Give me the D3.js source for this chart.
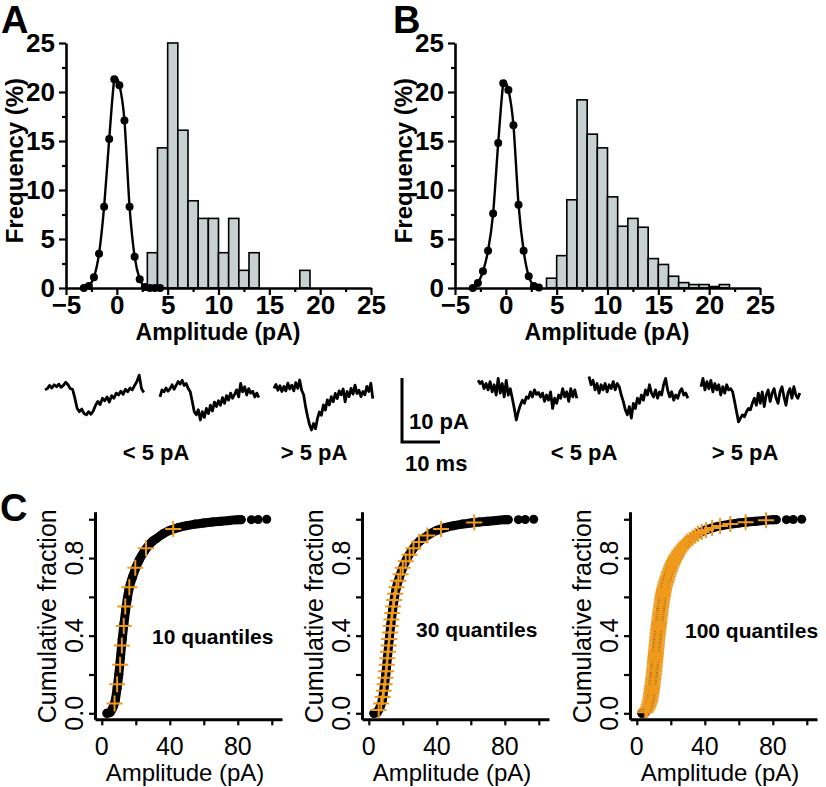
<!DOCTYPE html>
<html><head><meta charset="utf-8">
<script src="https://cdn.jsdelivr.net/npm/d3@7/dist/d3.min.js"></script>
<style>
body{margin:0;background:#fff}
svg text{font-family:"Liberation Sans",Arial,Helvetica,sans-serif;fill:#000}
</style>
</head><body>
<svg id="fig" width="826" height="787"></svg>
<script>
// ---------------- DATA ----------------
// Panel A histogram (bin start, pA) and frequency (%)
const binStartA = [3,4,5,6,7,8,9,10,11,12,13,18];
const freqA     = [3.6,14.3,25,16.1,8.9,7.1,7.1,3.6,7.1,1.8,3.6,1.8];
// Panel A noise distribution
const noiseXA = [-3.25,-2.75,-2.25,-1.75,-1.25,-0.75,-0.25,0.25,0.75,1.25,1.75,2.25,2.75,3.25,3.75,4.25];
const noiseYA = [0,0.2,1.1,3.5,8.3,15.2,21.3,20.7,17.1,8.3,3.2,0.9,0.1,0,0,0];
// Panel B histogram
const binStartB = [4,5,6,7,8,9,10,11,12,13,14,15,16,17,18,19,20,21];
const freqB     = [1.0,3.3,9.0,19.2,15.7,14.3,9.3,6.3,7.1,6.2,3.0,2.4,1.2,0.55,0.35,0.35,0.15,0.35];
// Panel B noise distribution
const noiseXB = [-3.25,-2.75,-2.25,-1.75,-1.25,-0.75,-0.25,0.25,0.75,1.25,1.75,2.25,2.75,3.25];
const noiseYB = [0,0.5,1.7,3.8,7.6,14.8,20.9,20.2,16.6,8.5,3.8,1.2,0.2,0.05];
// axis ticks
const histMajorX = [-5,0,5,10,15,20,25];
const histMinorX = [-2.5,2.5,7.5,12.5,17.5,22.5];
const histMajorY = [0,5,10,15,20,25];
const histMinorY = [2.5,7.5,12.5,17.5,22.5];

// Example current traces (pA, sampled evenly over the trace duration)
const trace1 = [-0.5,-0.3,0.2,-0.2,0.3,0,0.4,-0.1,0.2,0.7,0.3,-0.3,-0.4,-1.8,-3.4,-3.9,-3.5,-4.2,-4.4,-3.9,-4.3,-3.8,-2.9,-2.3,-2.8,-1.8,-2.2,-1.6,-2.4,-1.4,-1.8,-1.0,-1.3,-0.7,-1.2,-0.4,-0.8,-0.2,-0.5,0.2,0.8,1.8,-0.3,-0.9];
const trace2 = [-1.6,-0.5,-0.8,-0.2,-0.7,-0.3,0.3,-0.4,0.2,0.8,0.4,1.0,0.2,0.5,-0.3,-0.8,-2.3,-3.9,-4.4,-3.6,-5.2,-3.9,-4.8,-3.4,-4.2,-2.9,-3.8,-2.4,-3.1,-2.2,-2.9,-1.7,-2.6,-1.4,-2.1,-1.0,-1.8,-1.2,-0.5,-1.6,0.5,-0.8,0.0,-1.3,-0.3,-1.0,-0.7,-1.6,-1.0,-1.7];
const trace3 = [-0.1,0.5,-0.4,0.3,-0.6,0.2,-0.5,0.7,-0.2,0.4,-0.5,0.8,-0.1,1.2,-0.4,-1.1,-3.0,-4.5,-5.8,-6.6,-5.6,-6.4,-4.8,-3.8,-4.3,-2.7,-3.5,-1.9,-2.7,-1.4,-2.2,-0.9,-1.7,-0.5,-1.1,-0.2,-2.2,-0.6,-1.4,-0.1,-1.0,0.4,-0.9,-0.4,-1.4,-0.6,-1.1,0.2,-0.6,0.7,-1.7];
const trace4 = [1.0,0.5,0.8,-0.3,0.5,-0.5,0.8,-0.8,0.3,-1.3,1.3,-1.0,0.5,-1.6,1.0,-1.3,-0.3,-1.8,-3.4,-5.2,-3.9,-2.9,-2.1,-2.6,-1.6,-1.8,-0.8,-1.6,-0.5,-1.2,-0.9,-1.6,-1.0,-2.3,-1.3,-2.1,-0.8,-3.4,-1.8,-2.6,-1.3,-1.8,-0.3,-1.6,-0.8,-2.3,-0.3,-1.6,-0.5,-1.8];
const trace5 = [1.6,0.3,1.0,-0.5,0.5,-1.0,0.3,-0.5,0.5,-0.8,0.3,-0.3,0.8,-0.5,0.5,0.0,-1.3,-2.3,-3.6,-4.4,-3.1,-4.9,-2.6,-3.4,-1.8,-2.6,-1.3,-2.1,-0.5,-1.3,0.3,-1.0,-1.6,-0.5,-1.8,-0.8,-1.3,0.3,1.3,-0.5,-1.6,-0.8,-2.1,-1.3,-1.8,-0.8,-0.3,-1.3,-1.0,-1.8];
const trace6 = [0.0,1.3,-0.5,0.8,-0.3,1.0,-0.8,0.5,-0.5,0.3,-1.3,0.0,-1.0,0.3,-0.5,-0.3,-0.8,-2.3,-3.9,-5.5,-4.9,-4.4,-4.7,-3.9,-3.4,-3.6,-2.6,-1.8,-2.9,-1.0,-2.6,-0.8,-3.1,-1.3,-0.5,-2.3,-1.0,-0.3,-1.8,-2.6,-0.8,0.0,-1.6,-2.9,-1.0,-0.3,-1.8,0.0,-1.3,-1.8,-1.0];
const traceLabels = ["< 5 pA","> 5 pA","< 5 pA","> 5 pA"];
const traceDurationMs = 26;

// Panel C: cumulative distribution (amplitude pA, cumulative fraction)
const cdfAmp  = [3,5,6,7,8,9,10,11,12,13,14,15,16,18,20,22,25,28,30,32,36,40,45,50,55,60,65,70,75,80,82];
const cdfFrac = [0,0.005,0.02,0.04,0.07,0.13,0.20,0.29,0.38,0.46,0.53,0.59,0.64,0.70,0.75,0.79,0.835,0.87,0.888,0.90,0.925,0.943,0.957,0.967,0.975,0.981,0.986,0.99,0.994,0.997,0.998];
const tailAmp  = [88,92,97];
const tailFrac = [0.998,0.999,1.0];
// quantile amplitudes (pA) read from the orange crosses
const q10 = [7.5,9.0,10.8,11.8,12.9,13.8,16.2,19.7,26,42];
const q30 = [5.8,7.3,8.2,8.8,9.3,9.8,10.2,10.6,10.9,11.3,11.7,12.0,12.5,12.9,13.3,13.8,14.3,14.9,15.5,16.3,17.4,18.7,20.0,21.7,24.0,26.3,29.5,34.5,42.5,62];
const q100 = [5.0,5.7,6.25,6.75,7.17,7.5,7.83,8.08,8.25,8.42,8.58,8.75,8.92,9.07,9.21,9.36,9.5,9.64,9.79,9.93,
  10.06,10.17,10.28,10.39,10.5,10.61,10.72,10.83,10.94,11.06,11.17,11.28,11.39,11.5,11.61,11.72,11.83,11.94,12.06,12.19,
  12.31,12.44,12.56,12.69,12.81,12.94,13.07,13.21,13.36,13.5,13.64,13.79,13.93,14.08,14.25,14.42,14.58,14.75,14.92,15.1,
  15.3,15.5,15.7,15.9,16.17,16.5,16.83,17.17,17.5,17.83,18.2,18.6,19.0,19.4,19.8,20.25,20.75,21.25,21.75,22.33,
  23.0,23.67,24.33,25.0,25.86,26.7,27.6,28.6,29.7,31.2,32.8,34.4,36.0,38.2,40.7,44.3,49,55,64,76];
const quantileLabels = ["10 quantiles","30 quantiles","100 quantiles"];
const cdfMajorX = [0,40,80];
const cdfTicksX = [0,20,40,60,80,100];
const cdfMajorY = [0,0.4,0.8];
const cdfTicksY = [0,0.2,0.4,0.6,0.8,1.0];

// ---------------- DRAWING ----------------
const svg = d3.select("#fig");
const BAR_FILL = "#c8d1d1";
const ORANGE = "#ef9a1c";

function panelLetter(t, x, y){
  svg.append("text").attr("x",x).attr("y",y).attr("font-size",38).attr("font-weight","bold").text(t);
}

function histPanel(x0, binStart, freq, nx, ny){
  const x = d3.scaleLinear().domain([-5,25]).range([x0, x0+305]);
  const y = d3.scaleLinear().domain([0,25]).range([288, 43]);
  const g = svg.append("g");
  // bars
  g.selectAll("rect.bar").data(binStart.map((b,i)=>({b, f:freq[i]}))).join("rect")
    .attr("x", d=>x(d.b)).attr("width", d=>x(d.b+1)-x(d.b))
    .attr("y", d=>y(d.f)).attr("height", d=>y(0)-y(d.f))
    .attr("fill", BAR_FILL).attr("stroke","#000").attr("stroke-width",1.6);
  // noise curve
  const pts = nx.map((v,i)=>[v, ny[i]]);
  g.append("path").datum(pts)
    .attr("d", d3.line().x(d=>x(d[0])).y(d=>y(d[1])).curve(d3.curveCardinal.tension(0.3)))
    .attr("fill","none").attr("stroke","#000").attr("stroke-width",2.4);
  g.selectAll("circle.pt").data(pts).join("circle")
    .attr("cx", d=>x(d[0])).attr("cy", d=>y(d[1])).attr("r",4).attr("fill","#000");
  // axes
  const ax = g.append("g").attr("transform",`translate(0,${y(0)})`)
    .call(d3.axisBottom(x).tickValues(histMajorX).tickSize(7).tickSizeOuter(0).tickPadding(1).tickFormat(d3.format("d")));
  const axm = g.append("g").attr("transform",`translate(0,${y(0)})`)
    .call(d3.axisBottom(x).tickValues(histMinorX).tickSize(4).tickSizeOuter(0).tickFormat(""));
  const ay = g.append("g").attr("transform",`translate(${x0},0)`)
    .call(d3.axisLeft(y).tickValues(histMajorY).tickSize(7).tickSizeOuter(0).tickPadding(4).tickFormat(d3.format("d")));
  const aym = g.append("g").attr("transform",`translate(${x0},0)`)
    .call(d3.axisLeft(y).tickValues(histMinorY).tickSize(4).tickSizeOuter(0).tickFormat(""));
  [ax,axm,ay,aym].forEach(a=>{
    a.select(".domain").attr("stroke","#000").attr("stroke-width",2.6);
    a.selectAll(".tick line").attr("stroke","#000").attr("stroke-width",2.2);
  });
  axm.select(".domain").remove(); aym.select(".domain").remove();
  [ax,ay].forEach(a=>a.selectAll(".tick text")
    .attr("font-family","Liberation Sans, Arial, sans-serif")
    .attr("font-size",26).attr("font-weight","bold").attr("fill","#000"));
  ax.selectAll(".tick text").attr("dy","0.71em");
  // titles
  g.append("text").attr("x", x0+152).attr("y", 340).attr("text-anchor","middle")
    .attr("font-size",23).attr("font-weight","bold").text("Amplitude (pA)");
  g.append("text").attr("transform",`translate(${x0-43},${y(13)}) rotate(-90)`)
    .attr("text-anchor","middle").attr("font-size",24).attr("font-weight","bold").text("Frequency (%)");
}

histPanel(66, binStartA, freqA, noiseXA, noiseYA);
histPanel(455, binStartB, freqB, noiseXB, noiseYB);
panelLetter("A", 1, 33);
panelLetter("B", 393, 33);

// ---- traces ----
const msScale = d3.scaleLinear().domain([0,10]).range([0,38]);
const pAScale = d3.scaleLinear().domain([0,10]).range([0,64]);
const traceLayout = [
  {data:trace1, x0:45,  base:386.7},
  {data:trace2, x0:160, base:386.7},
  {data:trace3, x0:274, base:387.7},
  {data:trace4, x0:478, base:386.7},
  {data:trace5, x0:589, base:386.7},
  {data:trace6, x0:701, base:386.7}
];
traceLayout.forEach(tr=>{
  const n = tr.data.length;
  const line = d3.line()
    .x((d,i)=>tr.x0 + msScale(i/(n-1)*traceDurationMs))
    .y(d=>tr.base - pAScale(d));
  svg.append("path").datum(tr.data).attr("d", line)
    .attr("fill","none").attr("stroke","#000").attr("stroke-width",2.8).attr("stroke-linejoin","round");
});
// scale bar
const sbX = 402, sbY = 442;
svg.append("path")
  .attr("d", `M${sbX},${sbY - pAScale(10)}V${sbY}H${sbX + msScale(10)}`)
  .attr("fill","none").attr("stroke","#000").attr("stroke-width",3);
svg.append("text").attr("x", sbX+7).attr("y", 429).attr("font-size",22).attr("font-weight","bold").text("10 pA");
svg.append("text").attr("x", sbX+3).attr("y", 471).attr("font-size",22).attr("font-weight","bold").text("10 ms");
const labelX = [156, 314, 584, 745];
traceLabels.forEach((t,i)=>{
  svg.append("text").attr("x", labelX[i]).attr("y", 460).attr("text-anchor","middle")
    .attr("font-size",22).attr("font-weight","bold").text(t);
});

// ---- panel C ----
panelLetter("C", 0, 521);
const cdfPts = cdfAmp.map((a,i)=>[a, cdfFrac[i]]);
const tailPts = tailAmp.map((a,i)=>[a, tailFrac[i]]);
const quantSets = [q10, q30, q100];
const cX0 = [95, 362, 630];
quantSets.forEach((q, k)=>{
  const X0 = cX0[k];
  const x = d3.scaleLinear().domain([-4,106]).range([X0, X0+187]);
  const y = d3.scaleLinear().domain([-0.031,1.039]).range([719.3, 511.7]);
  const g = svg.append("g");
  // black CDF (dense dots)
  g.append("path").datum(cdfPts)
    .attr("d", d3.line().x(d=>x(d[0])).y(d=>y(d[1])).curve(d3.curveMonotoneX))
    .attr("fill","none").attr("stroke","#000").attr("stroke-width",9)
    .attr("stroke-linecap","round").attr("stroke-linejoin","round");
  g.selectAll("circle.c").data(cdfPts.concat(tailPts)).join("circle")
    .attr("cx", d=>x(d[0])).attr("cy", d=>y(d[1])).attr("r",4.5).attr("fill","#000");
  // orange crosses at quantiles
  const nq = q.length;
  g.selectAll("path.q").data(q).join("path")
    .attr("transform", (d,i)=>`translate(${x(d)},${y((i+0.5)/nq)})`)
    .attr("d","M-8,0H8M0,-8V8")
    .attr("stroke", ORANGE).attr("stroke-width",2).attr("fill","none");
  // axes
  const ax = g.append("g").attr("transform",`translate(0,${y.range()[0]})`)
    .call(d3.axisBottom(x).tickValues(cdfTicksX).tickSize(6).tickSizeOuter(0).tickFormat(""));
  const ay = g.append("g").attr("transform",`translate(${X0},0)`)
    .call(d3.axisLeft(y).tickValues(cdfTicksY).tickSize(6).tickSizeOuter(0).tickFormat(""));
  [ax,ay].forEach(a=>{
    a.select(".domain").attr("stroke","#000").attr("stroke-width",3);
    a.selectAll(".tick line").attr("stroke","#000").attr("stroke-width",2.2);
  });
  g.selectAll("text.xl").data(cdfMajorX).join("text")
    .attr("x", d=>x(d)).attr("y", 755).attr("text-anchor","middle")
    .attr("font-size",25).text(d=>d3.format("d")(d));
  g.selectAll("text.yl").data(cdfMajorY).join("text")
    .attr("transform", d=>`translate(${X0-12},${y(d)}) rotate(-90)`)
    .attr("text-anchor","middle").attr("font-size",25).text(d=>d3.format(".1f")(d));
  g.append("text").attr("x", X0+90).attr("y", 781).attr("text-anchor","middle")
    .attr("font-size",24).text("Amplitude (pA)");
  g.append("text").attr("transform",`translate(${X0-39},${y(0.5)}) rotate(-90)`)
    .attr("text-anchor","middle").attr("font-size",25).text("Cumulative fraction");
  g.append("text").attr("x", X0 + [57,54,55][k]).attr("y", [644,637,638][k])
    .attr("font-size",21).attr("font-weight","bold").text(quantileLabels[k]);
});
</script>
</body></html>
